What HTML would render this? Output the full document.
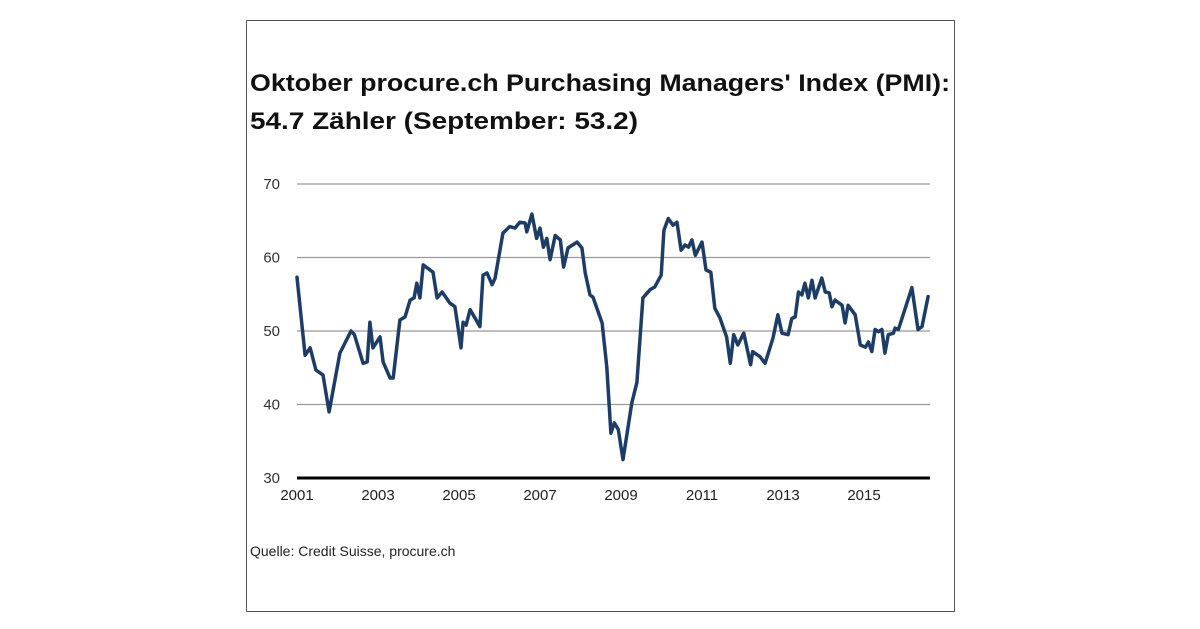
<!DOCTYPE html>
<html><head><meta charset="utf-8">
<style>
html,body{margin:0;padding:0;background:#fff;}
svg{display:block;font-family:"Liberation Sans",Arial,sans-serif;}
</style></head>
<body>
<svg id="chart" width="1200" height="629" viewBox="0 0 1200 629">
  <rect x="246.5" y="20.5" width="708" height="591" fill="#fff" stroke="#555" stroke-width="1"/>
  <text x="250" y="91" font-size="24" font-weight="bold" fill="#111" textLength="700" lengthAdjust="spacingAndGlyphs">Oktober procure.ch Purchasing Managers' Index (PMI):</text>
  <text x="250" y="129" font-size="24" font-weight="bold" fill="#111" textLength="388" lengthAdjust="spacingAndGlyphs">54.7 Zähler (September: 53.2)</text>
  <g id="grid"></g>
  <g id="ylabels"></g>
  <g id="xlabels"></g>
  <path id="line" fill="none" stroke="#1d3c66" stroke-width="3.5" stroke-linejoin="round" stroke-linecap="round"/>
  <text x="250" y="556" font-size="14" fill="#222">Quelle: Credit Suisse, procure.ch</text>
</svg>
<script>
// months since Jan 2001
const months = [0,2.4,3.9,5.6,7.7,9.5,12.7,16,17,19.6,20.8,21.6,22.5,24.6,25.5,27.6,28.5,30.5,32,33.5,34.7,35.5,36.4,37.4,40.3,41.5,43,45.3,46.8,47.7,48.6,49.2,50.1,51.3,52.7,54.2,55.1,56.3,57.8,58.7,61,63,64.6,66,67.6,68.1,69.6,71,72,73,74,75,76.5,78,79,80.3,83,84.4,85.4,86.8,87.7,90.4,91.8,93,94,95.2,96.6,99.2,100.7,102.5,104.6,106,107.9,108.7,110,111.4,112.6,113.8,115,116,117,118,120,121.2,122.6,123.8,125.3,127.3,128.4,129.4,130.6,132.4,134.4,135,137.2,138.7,141,142.5,143.7,145.5,146.6,147.6,148.6,149.6,150.5,151.5,152.6,153.5,155.5,156.5,157.7,158.5,159.4,161.5,162.4,163.3,165.4,166.9,168.4,169.3,170.3,171.3,172.3,173.3,174.2,175.2,176.7,177.2,178.2,182.2,184,185.2,187];
const values = [57.3,46.7,47.7,44.7,44,39,47,50,49.5,45.6,45.8,51.2,47.7,49.2,45.8,43.6,43.6,51.5,51.9,54.2,54.5,56.5,54.5,59,58,54.5,55.3,53.8,53.3,50.5,47.7,51.2,50.8,52.9,51.8,50.6,57.6,57.9,56.3,57.2,63.3,64.2,64,64.8,64.7,63.5,65.9,62.6,64,61.4,62.6,59.7,63,62.4,58.7,61.3,62.1,61.3,57.9,54.9,54.6,51.1,45.1,36.1,37.5,36.6,32.5,40.2,43,54.5,55.6,56,57.6,63.7,65.3,64.4,64.8,61,61.7,61.4,62.4,60.3,62.1,58.3,58,53.1,51.8,49.2,45.6,49.5,48.1,49.7,45.4,47.2,46.5,45.6,49,52.2,49.7,49.5,51.7,51.9,55.3,54.9,56.5,54.5,56.9,54.5,57.2,55.3,55.2,53.3,54.2,53.5,51.1,53.5,52.2,48.1,47.8,48.5,47.2,50.2,49.9,50.2,47,49.5,49.7,50.4,50.2,55.9,50.2,50.6,54.7];
const yTicks = [30,40,50,60,70];
const xTicks = [2001,2003,2005,2007,2009,2011,2013,2015];

const x0 = 297, pxPerYear = 40.5;
const xScale = m => x0 + m * pxPerYear / 12;
const xYear = y => x0 + (y - 2001) * pxPerYear;
const yScale = v => 478 - (v - 30) * 7.35;
const NS = "http://www.w3.org/2000/svg";
const grid = document.getElementById('grid');
const yl = document.getElementById('ylabels');
const xl = document.getElementById('xlabels');
yTicks.forEach(t => {
  const y = yScale(t);
  const ln = document.createElementNS(NS, 'line');
  ln.setAttribute('x1', 297); ln.setAttribute('x2', 930);
  ln.setAttribute('y1', y); ln.setAttribute('y2', y);
  ln.setAttribute('stroke', t === 30 ? '#000' : '#999');
  ln.setAttribute('stroke-width', t === 30 ? 3 : 1.2);
  
  
  grid.appendChild(ln);
  const tx = document.createElementNS(NS, 'text');
  tx.setAttribute('x', 280); tx.setAttribute('y', y + 5);
  tx.setAttribute('text-anchor', 'end'); tx.setAttribute('font-size', 15); tx.setAttribute('fill', '#333');
  tx.textContent = t;
  
  
  yl.appendChild(tx);
});
xTicks.forEach(t => {
  const tx = document.createElementNS(NS, 'text');
  tx.setAttribute('x', xYear(t)); tx.setAttribute('y', 500);
  tx.setAttribute('text-anchor', 'middle'); tx.setAttribute('font-size', 15); tx.setAttribute('fill', '#222');
  tx.textContent = t;
  
  
  xl.appendChild(tx);
});
document.getElementById('line').setAttribute('d',
  months.map((m, i) => (i ? 'L' : 'M') + xScale(m).toFixed(1) + ',' + yScale(values[i]).toFixed(1)).join(''));
</script>
</body></html>
